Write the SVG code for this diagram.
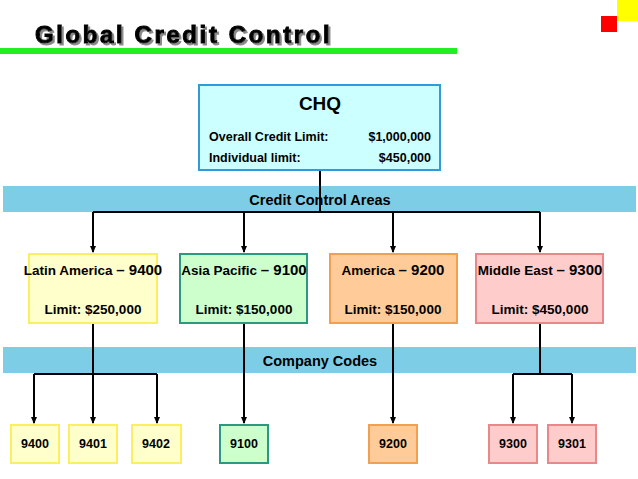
<svg xmlns="http://www.w3.org/2000/svg" width="638" height="479" viewBox="0 0 638 479">
<defs>
<style>
text{font-family:"Liberation Sans",Arial,sans-serif;font-weight:bold;fill:#000}
.l{font-size:13.5px;text-anchor:middle}
.big{font-size:15px}
.c{font-size:12.5px;text-anchor:middle}
.ln{stroke:#000;stroke-width:2;fill:none}
.y{fill:#ffffcc;stroke:#f8f060;stroke-width:2}
.g{fill:#ccffcc;stroke:#2a9980;stroke-width:2}
.o{fill:#ffcc99;stroke:#f0a050;stroke-width:2}
.p{fill:#ffcccc;stroke:#e88888;stroke-width:2}
</style>
<filter id="sh" x="-5%" y="-20%" width="110%" height="150%"><feDropShadow dx="2" dy="2" stdDeviation="0.5" flood-color="#888"/></filter>
<marker id="a" markerWidth="8" markerHeight="8" refX="6" refY="4" orient="auto" markerUnits="userSpaceOnUse"><path d="M0,1 L7,4 L0,7 Z" fill="#000"/></marker>
</defs>
<rect width="638" height="479" fill="#fff"/>
<rect x="617" y="0" width="21" height="21" fill="#ffff00"/>
<rect x="601" y="16" width="16" height="16" fill="#ff0000"/>
<text x="35" y="43" filter="url(#sh)" style="font-size:24px;letter-spacing:2.6px;stroke:#000;stroke-width:1">Global Credit Control</text>
<rect x="0" y="48" width="457" height="6" fill="#22ee22"/>
<rect x="3" y="186" width="633" height="26" fill="#7ecde6"/>
<text x="320" y="205" class="l" style="font-size:14.5px">Credit Control Areas</text>
<rect x="3" y="347" width="633" height="26" fill="#7ecde6"/>
<text x="320" y="366" class="l" style="font-size:14.5px">Company Codes</text>
<g id="connectors">
<path class="ln" d="M320 170 V212 M93 212 H540"/>
<path class="ln" marker-end="url(#a)" d="M93 212 V252"/>
<path class="ln" marker-end="url(#a)" d="M244 212 V252"/>
<path class="ln" marker-end="url(#a)" d="M393 212 V252"/>
<path class="ln" marker-end="url(#a)" d="M540 212 V252"/>
<path class="ln" d="M34 374 H157 M540 323 V374 M513 374 H572"/>
<path class="ln" marker-end="url(#a)" d="M93 323 V423"/>
<path class="ln" marker-end="url(#a)" d="M34 374 V423"/>
<path class="ln" marker-end="url(#a)" d="M157 374 V423"/>
<path class="ln" marker-end="url(#a)" d="M244 323 V423"/>
<path class="ln" marker-end="url(#a)" d="M393 323 V423"/>
<path class="ln" marker-end="url(#a)" d="M513 374 V423"/>
<path class="ln" marker-end="url(#a)" d="M572 374 V423"/>
</g>
<g id="chq">
<rect x="199" y="85" width="241" height="85" fill="#ccffff" stroke="#3399dd" stroke-width="2"/>
<text x="320" y="110" class="l" style="font-size:19px">CHQ</text>
<text x="209" y="141" style="font-size:12.5px">Overall Credit Limit:</text>
<text x="431" y="141" style="font-size:12.5px;text-anchor:end">$1,000,000</text>
<text x="209" y="162" style="font-size:12.5px">Individual limit:</text>
<text x="431" y="162" style="font-size:12.5px;text-anchor:end">$450,000</text>
</g>
<g id="latin"><rect class="y" x="29" y="254" width="128" height="69"/>
<text x="93" y="275" class="l">Latin America <tspan class="big">– 9400</tspan></text>
<text x="93" y="314" class="l">Limit: $250,000</text></g>
<g id="asia"><rect class="g" x="180" y="254" width="127" height="69"/>
<text x="244" y="275" class="l">Asia Pacific <tspan class="big">– 9100</tspan></text>
<text x="244" y="314" class="l">Limit: $150,000</text></g>
<g id="america"><rect class="o" x="330" y="254" width="127" height="69"/>
<text x="393" y="275" class="l">America <tspan class="big">– 9200</tspan></text>
<text x="393" y="314" class="l">Limit: $150,000</text></g>
<g id="mideast"><rect class="p" x="476" y="254" width="127" height="69"/>
<text x="540" y="275" class="l">Middle East <tspan class="big">– 9300</tspan></text>
<text x="540" y="314" class="l">Limit: $450,000</text></g>
<g id="c9400"><rect class="y" x="11" y="425" width="48" height="38"/><text x="35" y="448" class="c">9400</text></g>
<g id="c9401"><rect class="y" x="69" y="425" width="48" height="38"/><text x="93" y="448" class="c">9401</text></g>
<g id="c9402"><rect class="y" x="132" y="425" width="49" height="38"/><text x="156" y="448" class="c">9402</text></g>
<g id="c9100"><rect class="g" x="220" y="425" width="48" height="38"/><text x="244" y="448" class="c">9100</text></g>
<g id="c9200"><rect class="o" x="369" y="425" width="48" height="38"/><text x="393" y="448" class="c">9200</text></g>
<g id="c9300"><rect class="p" x="489" y="425" width="48" height="38"/><text x="513" y="448" class="c">9300</text></g>
<g id="c9301"><rect class="p" x="548" y="425" width="48" height="38"/><text x="572" y="448" class="c">9301</text></g>
</svg>
